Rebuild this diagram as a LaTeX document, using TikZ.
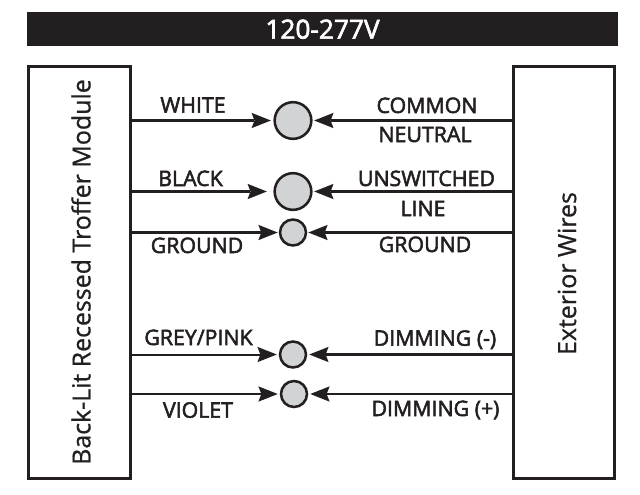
\documentclass[tikz,border=0pt]{standalone}
\usepackage{fontspec}
\setmainfont{Open Sans}
\newfontfamily\semifont[FakeBold=2.5]{Open Sans}
\newfontfamily\sidefont[FakeBold=0.8]{Open Sans}
\usetikzlibrary{arrows.meta}
\definecolor{ink}{HTML}{231F20}
\definecolor{dot}{HTML}{D1D3D4}
\tikzset{
  box/.style={draw=ink,line width=2.25pt,fill=white,rectangle,inner sep=0pt,outer sep=0pt},
  banner/.style={fill=ink,rectangle,inner sep=0pt,outer sep=0pt,minimum width=443.25pt,minimum height=25.9pt,text=white,font=\semifont\fontsize{19.7}{19.7}\selectfont},
  dotbig/.style={circle,draw=ink,fill=dot,line width=1.9pt,minimum size=27.5pt,inner sep=0pt,outer sep=0.95pt},
  dotsmall/.style={circle,draw=ink,fill=dot,line width=1.9pt,minimum size=19.5pt,inner sep=0pt,outer sep=0.95pt},
  wire/.style={draw=ink,line width=1.9pt,-{Stealth[length=14.5pt,width=11.5pt,inset=2.2pt,line width=0pt]}},
  lab/.style={anchor=base,text=ink,inner sep=0pt,font=\semifont\fontsize{16}{16}\selectfont},
  side/.style={rotate=90,text=ink,inner sep=0pt,font=\sidefont\fontsize{18.7}{18.7}\selectfont},
}
\begin{document}
\begin{tikzpicture}[x=0.75pt,y=-0.75pt]
\useasboundingbox (0,0) rectangle (640,494);
\node[banner] (title) at (322.5,29.2) {120-277V};
\node[box,minimum width=76.5pt,minimum height=309pt] (left) at (79.5,272) {};
\node[box,minimum width=76.2pt,minimum height=309pt] (right) at (564,272) {};
\node[side] (ltext) at (81,272) {Back-Lit Recessed Troffer Module};
\node[side] (rtext) at (567,273.5) {Exterior Wires};
\node[dotbig] (c1) at (293,120.5) {};
\node[dotbig] (c2) at (293,191.5) {};
\node[dotsmall] (c3) at (293,232.5) {};
\node[dotsmall] (c4) at (293,354.5) {};
\node[dotsmall] (c5) at (294,394) {};
\draw[wire,shorten >=1.9pt] (left.east |- c1) -- (c1.west);
\draw[wire,shorten >=4.9pt] (left.east |- c2) -- (c2.west);
\draw[wire,shorten >=0.8pt] (left.east |- c3) -- (c3.west);
\draw[wire,line width=1.5pt,shorten >=1.5pt] (left.east |- c4) -- (c4.west);
\draw[wire,shorten >=1.5pt] (left.east |- c5) -- (c5.west);
\draw[wire,shorten >=1.2pt] (right.west |- c1) -- (c1.east);
\draw[wire,shorten >=1.2pt] (right.west |- c2) -- (c2.east);
\draw[wire,shorten >=0.8pt] (right.west |- c3) -- (c3.east);
\draw[wire,shorten >=1.5pt] (right.west |- c4) -- (c4.east);
\draw[wire,shorten >=1.5pt] (right.west |- c5) -- (c5.east);
\node[lab] (l1) at (193,112.7) {WHITE};
\node[lab] (l2) at (190.5,186) {BLACK};
\node[lab] (l3) at (197,253) {GROUND};
\node[lab] (l4) at (198.5,345) {GREY/PINK};
\node[lab] (l5) at (198,417.7) {VIOLET};
\node[lab] (r1) at (427,113) {COMMON};
\node[lab] (r2) at (425,142) {NEUTRAL};
\node[lab] (r3) at (426.5,186) {UNSWITCHED};
\node[lab] (r4) at (423,216) {LINE};
\node[lab] (r5) at (425,252) {GROUND};
\node[lab] (r6) at (435,345.7) {DIMMING (-)};
\node[lab] (r7) at (435.5,416) {DIMMING (+)};
\end{tikzpicture}
\end{document}
